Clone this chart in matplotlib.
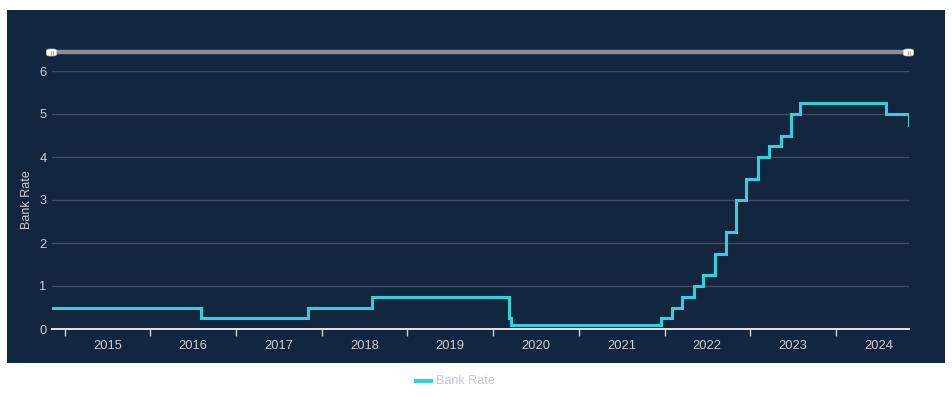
import datetime as dt
import matplotlib
matplotlib.use("Agg")
import matplotlib.pyplot as plt
import matplotlib.dates as mdates
from matplotlib.patches import Rectangle, FancyBboxPatch
from matplotlib.lines import Line2D

# Bank Rate change dates and new rate (%)
change_dates = ["2014-11-08", "2016-08-04", "2017-11-02", "2018-08-02",
                "2020-03-11", "2020-03-19", "2021-12-16", "2022-02-03",
                "2022-03-17", "2022-05-05", "2022-06-16", "2022-08-04",
                "2022-09-22", "2022-11-03", "2022-12-15", "2023-02-02",
                "2023-03-23", "2023-05-11", "2023-06-22", "2023-08-03",
                "2024-08-01", "2024-11-07", "2024-11-08"]
rates = [0.5, 0.25, 0.5, 0.75,
         0.25, 0.1, 0.25, 0.5,
         0.75, 1.0, 1.25, 1.75,
         2.25, 3.0, 3.5, 4.0,
         4.25, 4.5, 5.0, 5.25,
         5.0, 4.75, 4.75]
years = list(range(2015, 2025))
y_ticks = [0, 1, 2, 3, 4, 5, 6]

dates = [dt.datetime.strptime(d, "%Y-%m-%d") for d in change_dates]

BG = "#13263f"
LINE = "#33d0d6"
TXT = "#c9ced6"
GRID = "#3d4c63"
W, H = 952, 397

def fx(px):
    return px / W

def fy(py):
    return (H - py) / H

plt.rcParams["font.family"] = ["Liberation Sans", "DejaVu Sans"]
fig = plt.figure(figsize=(W / 100, H / 100), dpi=100, facecolor="white")

# dark panel
fig.patches.append(Rectangle((fx(7), fy(363)), fx(938), 353 / H,
                             transform=fig.transFigure, facecolor=BG,
                             edgecolor="none", zorder=-10))

ax = fig.add_axes([fx(52), fy(329), fx(857), 258 / H])
ax.set_zorder(2)
ax.set_facecolor("none")
ax.step(dates, rates, where="post", color=LINE, lw=2.2, zorder=3,
        solid_joinstyle="miter")

ax.set_xlim(dates[0], dates[-1])
ax.set_ylim(0, 6)
ax.set_yticks(y_ticks)
ax.yaxis.grid(True, color=GRID, lw=1)
ax.set_axisbelow(True)

ax.xaxis.set_major_locator(mdates.YearLocator())
ax.xaxis.set_major_formatter(plt.NullFormatter())
ax.set_xticks([dt.datetime(y, 7, 2) for y in years], minor=True)
ax.set_xticklabels([str(y) for y in years], minor=True)
ax.tick_params(axis="x", which="major", length=5, color=TXT, width=1, direction="out")
ax.tick_params(axis="x", which="minor", length=0, pad=8, labelsize=9.3, labelcolor=TXT)
ax.tick_params(axis="y", length=0, pad=4, labelsize=9.3, labelcolor=TXT)

for s in ("top", "right", "left"):
    ax.spines[s].set_visible(False)
ax.spines["bottom"].set_color("#e2e4e8")
ax.spines["bottom"].set_linewidth(1.4)

fig.text(fx(26.5), fy(200), "Bank Rate", rotation=90, ha="center", va="center",
         fontsize=9, color=TXT)

# zoom slider
fig.add_artist(Line2D([fx(52), fx(908)], [fy(52), fy(52)], color="#8a8f96",
                      lw=3.2, transform=fig.transFigure, solid_capstyle="butt"))
for cx in (51.5, 908.5):
    fig.patches.append(FancyBboxPatch((fx(cx - 5), fy(56)), fx(10), 7 / H,
                                      boxstyle="round,pad=0,rounding_size=0.004",
                                      transform=fig.transFigure,
                                      facecolor="white", edgecolor="#c8c8c8",
                                      lw=0.5, zorder=5))
    for dx in (-1, 1):
        fig.add_artist(Line2D([fx(cx + dx), fx(cx + dx)], [fy(54.5), fy(50.5)],
                              color="#a0a0a0", lw=0.6, transform=fig.transFigure,
                              zorder=6))

# legend
fig.add_artist(Line2D([fx(416), fx(431)], [fy(381), fy(381)], color=LINE,
                      lw=3, transform=fig.transFigure))
fig.text(fx(436), fy(381), "Bank Rate", ha="left", va="center",
         fontsize=9, color="#c3c7ce")

fig.savefig("out.png", dpi=100, facecolor="white")
